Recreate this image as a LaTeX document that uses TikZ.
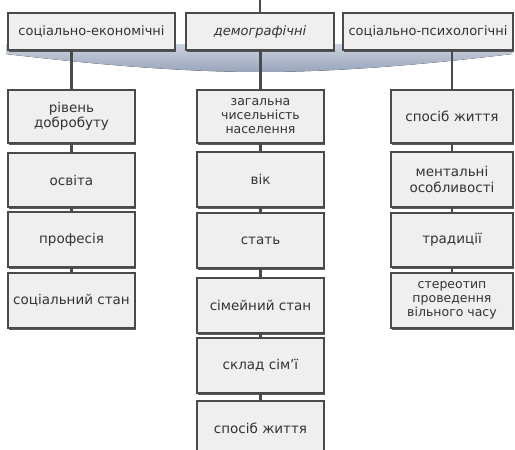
\documentclass[tikz,border=0pt]{standalone}
\usepackage{fontspec}
\setmainfont{DejaVu Sans}
\usetikzlibrary{shadows}
\definecolor{boxfill}{HTML}{EFEFEF}
\definecolor{boxline}{HTML}{4A4A4A}
\definecolor{txt}{HTML}{333333}
\definecolor{bandtop}{HTML}{CDD4E0}
\definecolor{bandbot}{HTML}{98A4BB}
\begin{document}
\begin{tikzpicture}[x=1pt,y=-1pt,
  box/.style={draw=boxline, line width=1.1pt, fill=boxfill, text=txt, align=center,
    inner sep=1pt, font=\fontsize{13.5}{15.5}\selectfont,
    drop shadow={shadow xshift=1pt, shadow yshift=-1.5pt, fill=boxline, opacity=0.9}},
  topbox/.style={box, font=\fontsize{13}{15}\selectfont, minimum height=37pt},
  multi/.style={font=\fontsize{12.5}{14}\selectfont},
  conn/.style={draw=boxline, line width=2.2pt}]
\useasboundingbox (0,0) rectangle (515,450);
% band
\fill[top color=bandtop, bottom color=bandbot]
  (6,44) -- (512,44) -- (512,54) .. controls (430,64) and (340,72) .. (260,72)
  .. controls (180,72) and (90,64) .. (6,54) -- cycle;
% top boxes
\node[topbox, minimum width=167pt] (tl) at (91.5,31.5) {соціально-економічні};
\node[topbox, minimum width=148pt] (tm) at (260,31.5) {\itshape демографічні};
\node[topbox, minimum width=170pt] (tr) at (428,31.5) {соціально-психологічні};
% left column
\node[box, minimum width=127pt, minimum height=53pt] (l1) at (71.5,116.5) {рівень\\добробуту};
\node[box, minimum width=127pt, minimum height=54pt] (l2) at (71.5,180) {освіта};
\node[box, minimum width=127pt, minimum height=55pt] (l3) at (71.5,239.5) {професія};
\node[box, minimum width=127pt, minimum height=55pt] (l4) at (71.5,300.5) {соціальний стан};
% middle column
\node[box, multi, minimum width=127pt, minimum height=53pt] (m1) at (260.5,116.5) {загальна\\чисельність\\населення};
\node[box, minimum width=127pt, minimum height=55pt] (m2) at (260.5,179.5) {вік};
\node[box, minimum width=127pt, minimum height=55pt] (m3) at (260.5,240.5) {стать};
\node[box, minimum width=127pt, minimum height=55pt] (m4) at (260.5,305.5) {сімейний стан};
\node[box, minimum width=127pt, minimum height=55pt] (m5) at (260.5,365.5) {склад сім’ї};
\node[box, minimum width=127pt, minimum height=55pt] (m6) at (260.5,428.5) {спосіб життя};
% right column
\node[box, minimum width=122pt, minimum height=53pt] (r1) at (452,116.5) {спосіб життя};
\node[box, minimum width=122pt, minimum height=55pt] (r2) at (452,179.5) {ментальні\\особливості};
\node[box, minimum width=122pt, minimum height=54pt] (r3) at (452,240) {традиції};
\node[box, multi, minimum width=122pt, minimum height=55pt] (r4) at (452,300.5) {стереотип\\проведення\\вільного часу};
% connectors
\coordinate (top) at (260,0);
\draw[conn] (top) -- (tm.north);
\draw[conn] (tl.south -| l1.north) -- (l1.north);
\draw[conn] (tm.south -| m1.north) -- (m1.north);
\draw[conn] (tr.south -| r1.north) -- (r1.north);
\draw[conn] (l1.south) -- (l2.north);
\draw[conn] (l2.south) -- (l3.north);
\draw[conn] (l3.south) -- (l4.north);
\draw[conn] (m1.south) -- (m2.north);
\draw[conn] (m2.south) -- (m3.north);
\draw[conn] (m3.south) -- (m4.north);
\draw[conn] (m4.south) -- (m5.north);
\draw[conn] (m5.south) -- (m6.north);
\draw[conn] (r1.south) -- (r2.north);
\draw[conn] (r2.south) -- (r3.north);
\draw[conn] (r3.south) -- (r4.north);
\end{tikzpicture}
\end{document}
